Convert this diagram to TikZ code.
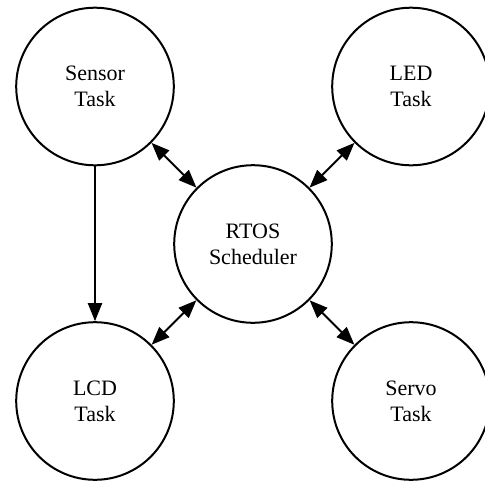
\documentclass[tikz,border=0pt]{standalone}
\usepackage{fontspec}
\setmainfont{Liberation Serif}
\usetikzlibrary{arrows.meta}
\begin{document}
\begin{tikzpicture}[x=1pt,y=-1pt,
  task/.style={draw=black, line width=2pt, circle, minimum size=157.6pt, inner sep=0pt,
    align=center, font=\fontsize{22}{26}\selectfont},
  link/.style={line width=2pt, -{Triangle[length=18pt,width=14pt]}},
  dlink/.style={line width=2pt, {Triangle[length=18pt,width=14pt]}-{Triangle[length=18pt,width=14pt]}}]
\useasboundingbox (0,0) rectangle (485,482);
\node[task] (sensor) at (95,86.5) {Sensor\\Task};
\node[task] (led) at (411,86.5) {LED\\Task};
\node[task] (rtos) at (253,244) {RTOS\\Scheduler};
\node[task] (lcd) at (95,401) {LCD\\Task};
\node[task] (servo) at (411,401) {Servo\\Task};
\draw[link] (sensor) -- (lcd);
\draw[dlink] (sensor) -- (rtos);
\draw[dlink] (led) -- (rtos);
\draw[dlink] (lcd) -- (rtos);
\draw[dlink] (servo) -- (rtos);
\end{tikzpicture}
\end{document}
